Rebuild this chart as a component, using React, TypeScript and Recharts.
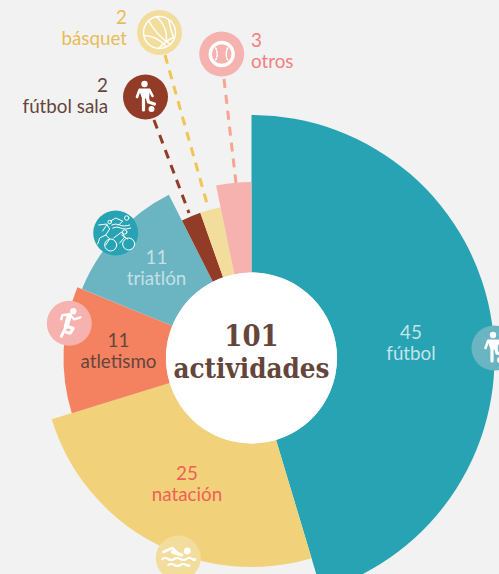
import React from 'react';
import { PieChart, Pie, Cell, Sector } from 'recharts';

const categories = ['fútbol', 'natación', 'atletismo', 'triatlón', 'fútbol sala', 'básquet', 'otros'];
const counts = [45, 25, 11, 11, 2, 2, 3];
// Arc sizes as measured on the picture; the printed counts are above.
const drawnShares = [45, 24.7, 10.8, 11.3, 2.05, 2.15, 3.2];
const totalLabel = ['101', 'actividades'];

const fills = ['#27a3b3', '#f1d27b', '#f48261', '#6bb4c2', '#923c28', '#f3dd9d', '#f6b2ae'];
const outerRadii = [243, 209, 188, 183, 154, 154, 176];
const tableData = categories.map((name, i) => ({ name, value: drawnShares[i], rim: outerRadii[i] }));

const CX = 251.5;
const CY = 358;
const FONT = 'Lato, "Open Sans", sans-serif';
const BROWN = '#65453b';

const sectorShape = (p: any) => {
  const rim = p.rim ?? p.payload?.rim ?? p.outerRadius;
  return (
    <Sector
      cx={p.cx}
      cy={p.cy}
      innerRadius={p.innerRadius}
      outerRadius={rim}
      startAngle={p.startAngle}
      endAngle={p.endAngle}
      fill={p.fill}
      stroke="none"
    />
  );
};

const Label2 = ({ x, y, a, b, fill, anchor = 'middle' }: any) => (
  <text x={x} textAnchor={anchor} fontFamily={FONT} fontSize={18.8} fill={fill}>
    <tspan x={x} y={y}>{a}</tspan>
    <tspan x={x} y={y + 21}>{b}</tspan>
  </text>
);

const W = '#fff';

const Person = ({ kick }: { kick?: boolean }) => (
  <g stroke={W} strokeLinecap="round" strokeLinejoin="round" fill="none">
    <circle cx={-1} cy={-13} r={3.2} fill={W} stroke="none" />
    <path d="M-6 -8 L4 -8 L3 1 L-3 1 Z" fill={W} stroke={W} strokeWidth={1.2} />
    <path d="M-6 -7 L-8.5 0" strokeWidth={2.6} />
    <path d="M4 -7 L7 -1" strokeWidth={2.6} />
    <path d="M-2 1 L-2 13" strokeWidth={3.2} />
    <path d={kick ? 'M2 1 L3 5 L9 7' : 'M2 1 L5 12'} strokeWidth={3.2} />
    {kick ? <circle cx={6} cy={12} r={3} fill={W} stroke="none" /> : null}
  </g>
);

const Runner = () => (
  <g stroke={W} strokeLinecap="round" strokeLinejoin="round" fill="none">
    <circle cx={4} cy={-12} r={3.2} fill={W} stroke="none" />
    <path d="M0 -8 L-3 3" strokeWidth={5} />
    <path d="M0 -9 L-7 -8 L-8 -4" strokeWidth={2.4} />
    <path d="M1 -8 L5 -4 L11 -6" strokeWidth={2.4} />
    <path d="M-3 3 L-8 13" strokeWidth={3} />
    <path d="M-3 3 L4 5 L1 10 L-3 9" strokeWidth={3} />
  </g>
);

const Ball = () => (
  <g stroke={W} strokeWidth={1.4} fill="none" strokeLinecap="round">
    <circle r={16} />
    <path d="M-11 -12 Q-3 3 11 12" />
    <path d="M-16 3 Q-4 3 6 13 L4 15" />
    <path d="M-3 -16 Q8 -6 7 8" />
    <path d="M9 -13 Q12 0 14 5 M14 5 Q8 7 -1 16" />
  </g>
);

const Baseball = () => (
  <g stroke={W} fill="none" strokeLinecap="round">
    <circle r={11.5} strokeWidth={3.4} />
    <path d="M-6 -6 Q-3 0 -6 6" strokeWidth={1.5} strokeDasharray="2 1.5" />
    <path d="M6 -6 Q3 0 6 6" strokeWidth={1.5} strokeDasharray="2 1.5" />
  </g>
);

const Swimmer = () => (
  <g stroke={W} strokeLinecap="round" strokeLinejoin="round" fill="none">
    <circle cx={9} cy={-7} r={3.4} fill={W} stroke="none" />
    <path d="M-15 -6 L-6 -10 L-1 -5 L4 -3" strokeWidth={2.6} />
    <path d="M-6 -6 L3 -3" strokeWidth={3} />
    <path d="M-16 1 Q-13 -1 -10 1 T-4 1 T2 1 T8 1 T14 1 T17 1" strokeWidth={2.2} />
    <path d="M-10 7 Q-7 5 -4 7 T2 7 T8 7 T11 7" strokeWidth={2.2} />
  </g>
);

const Triathlon = () => (
  <g stroke={W} strokeWidth={1} fill="none" strokeLinecap="round" strokeLinejoin="round">
    <circle cx={-6} cy={-11} r={1.8} />
    <path d="M-17 -8 L-9 -9 L-6 -4 L-10 2 L-6 6 L-10 12 M-10 2 L-16 5 L-18 11 M-9 -8 L-13 -2" />
    <circle cx={11} cy={-15} r={2.2} />
    <path d="M-5 -12 L0 -15 L7 -12 L3 -8 M-4 -8 Q0 -10 4 -8 T14 -8" />
    <path d="M-3 -5 Q1 -7 5 -5 T15 -5" />
    <circle cx={9} cy={-1} r={2.2} />
    <path d="M-2 5 L6 -1 L9 4 L4 10 M6 2 L12 6" />
    <circle cx={-5} cy={12} r={6} />
    <circle cx={13} cy={11} r={6} />
  </g>
);

const Badge = ({ x, y, fill, children }: any) => (
  <g transform={`translate(${x} ${y})`}>
    <circle r={22.5} fill={fill} />
    {children}
  </g>
);

const Dash = ({ x1, y1, x2, y2, stroke }: any) => (
  <line x1={x1} y1={y1} x2={x2} y2={y2} stroke={stroke} strokeWidth={3} strokeDasharray="9 7" />
);

export default function App() {
  return (
    <div style={{ position: 'fixed', left: 0, top: 0, width: 499, height: 574, overflow: 'hidden', background: '#f2f2f2' }}>
      <PieChart width={499} height={574} margin={{ top: 0, right: 0, bottom: 0, left: 0 }}>
        <Pie
          data={tableData}
          dataKey="value"
          nameKey="name"
          cx={CX}
          cy={CY}
          innerRadius={85.5}
          outerRadius={243}
          startAngle={90}
          endAngle={-270}
          stroke="none"
          isAnimationActive={false}
          label={false}
          labelLine={false}
          shape={sectorShape}
        >
          {tableData.map((d, i) => (
            <Cell key={d.name} fill={fills[i]} />
          ))}
        </Pie>
      </PieChart>

      <svg width={499} height={574} style={{ position: 'absolute', left: 0, top: 0 }}>
        <circle cx={CX} cy={CY} r={85.5} fill="#fff" />

        <Dash x1={165} y1={55} x2={208} y2={207} stroke="#efc653" />
        <Dash x1={224} y1={79} x2={236} y2={183} stroke="#f7a58e" />
        <Dash x1={154} y1={120} x2={189} y2={213} stroke="#923c28" />

        <Badge x={159.5} y={32.5} fill="#f3dd9d"><Ball /></Badge>
        <Badge x={221.7} y={54} fill="#f6b2ae"><Baseball /></Badge>
        <Badge x={145.5} y={97} fill="#923c28"><Person kick /></Badge>
        <Badge x={115.7} y={233} fill="#27a3b3"><Triathlon /></Badge>
        <Badge x={69.3} y={323.3} fill="#f6b2ae"><Runner /></Badge>
        <Badge x={494} y={348} fill="#6bb4c2"><Person kick /></Badge>
        <Badge x={178.3} y={558} fill="#f3dd9d"><Swimmer /></Badge>

        <Label2 x={127} y={24} a={String(counts[5])} b={categories[5]} fill="#e9bb58" anchor="end" />
        <Label2 x={251} y={47} a={String(counts[6])} b={categories[6]} fill="#f47f7c" anchor="start" />
        <Label2 x={108} y={92} a={String(counts[4])} b={categories[4]} fill={BROWN} anchor="end" />
        <Label2 x={156.5} y={264} a={String(counts[3])} b={categories[3]} fill="#c4e0e6" />
        <Label2 x={118.5} y={347} a={String(counts[2])} b={categories[2]} fill={BROWN} />
        <Label2 x={411} y={339} a={String(counts[0])} b={categories[0]} fill="#c4e4ea" />
        <Label2 x={187} y={480} a={String(counts[1])} b={categories[1]} fill="#ef5f55" />

        <text textAnchor="middle" fontFamily='"DejaVu Serif Condensed", "DejaVu Serif", serif' fontWeight={700} fill={BROWN}>
          <tspan x={CX} y={346} fontSize={29}>{totalLabel[0]}</tspan>
          <tspan x={CX} y={378} fontSize={27.5}>{totalLabel[1]}</tspan>
        </text>
      </svg>
    </div>
  );
}
